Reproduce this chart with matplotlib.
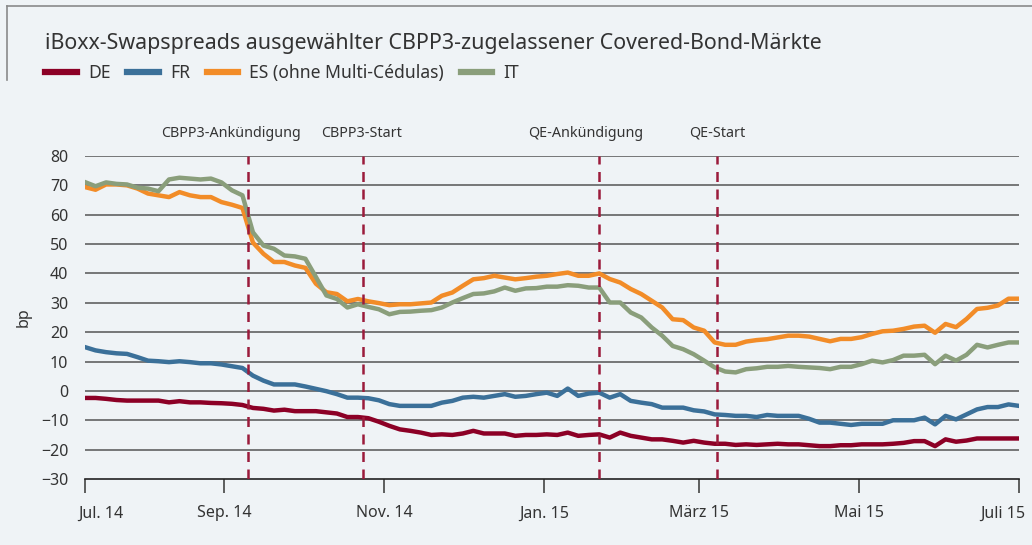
import matplotlib
matplotlib.use('Agg')
import matplotlib.pyplot as plt
import matplotlib.transforms as mtrans
import numpy as np
import pandas as pd

# spreads in bp, sampled every 4 days starting 10 Jul 2014
de = [-2.4, -2.4, -2.7, -3.1, -3.3, -3.3, -3.3, -3.3, -3.9, -3.5,
      -3.9, -3.9, -4.1, -4.2, -4.4, -4.8, -5.8, -6.1, -6.7, -6.4,
      -6.9, -6.9, -6.9, -7.3, -7.7, -8.9, -8.9, -9.3, -10.5, -11.9,
      -13.1, -13.6, -14.2, -15.0, -14.8, -15.0, -14.5, -13.6, -14.5, -14.5,
      -14.5, -15.3, -15.0, -15.0, -14.8, -15.0, -14.2, -15.3, -15.0, -14.8,
      -15.9, -14.2, -15.3, -15.9, -16.5, -16.5, -17.0, -17.6, -17.0, -17.6,
      -18.0, -18.0, -18.4, -18.2, -18.4, -18.2, -18.0, -18.2, -18.2, -18.5,
      -18.8, -18.8, -18.5, -18.5, -18.2, -18.2, -18.2, -18.0, -17.7, -17.1,
      -17.1, -18.8, -16.5, -17.3, -16.9, -16.2, -16.2, -16.2, -16.2, -16.2]
fr = [14.9, 13.8, 13.2, 12.8, 12.6, 11.5, 10.3, 10.1, 9.8, 10.1,
      9.8, 9.4, 9.4, 9.0, 8.4, 7.8, 5.2, 3.5, 2.2, 2.2,
      2.2, 1.5, 0.7, -0.1, -1.1, -2.3, -2.3, -2.5, -3.2, -4.5,
      -5.1, -5.1, -5.1, -5.1, -4.0, -3.4, -2.3, -2.0, -2.3, -1.7,
      -1.1, -2.0, -1.7, -1.1, -0.6, -1.7, 0.8, -1.7, -0.9, -0.6,
      -2.3, -1.1, -3.4, -4.0, -4.5, -5.7, -5.7, -5.7, -6.6, -7.0,
      -8.0, -8.2, -8.5, -8.5, -8.9, -8.2, -8.5, -8.5, -8.5, -9.5,
      -10.8, -10.8, -11.2, -11.6, -11.2, -11.2, -11.2, -10.0, -10.0, -10.0,
      -9.1, -11.4, -8.5, -9.7, -8.0, -6.3, -5.5, -5.5, -4.6, -5.1]
es = [69.4, 68.5, 70.3, 70.3, 70.0, 68.9, 67.2, 66.6, 66.0, 67.7,
      66.6, 66.0, 66.0, 64.3, 63.4, 62.3, 50.5, 46.7, 43.9, 43.9,
      42.7, 41.9, 36.5, 33.6, 33.0, 30.5, 31.3, 30.5, 29.9, 29.2,
      29.5, 29.5, 29.8, 30.1, 32.4, 33.5, 35.8, 38.0, 38.4, 39.2,
      38.6, 38.0, 38.4, 38.9, 39.2, 39.8, 40.3, 39.2, 39.2, 40.0,
      38.1, 36.9, 34.7, 33.0, 30.7, 28.4, 24.4, 24.1, 21.6, 20.5,
      16.5, 15.7, 15.7, 16.8, 17.3, 17.6, 18.2, 18.8, 18.8, 18.5,
      17.7, 16.9, 17.7, 17.7, 18.3, 19.4, 20.3, 20.5, 21.1, 21.9,
      22.2, 19.8, 22.8, 21.7, 24.5, 27.9, 28.3, 29.1, 31.4, 31.4]
it = [71.1, 69.7, 71.0, 70.5, 70.3, 69.2, 68.9, 68.0, 72.0, 72.6,
      72.3, 72.0, 72.3, 71.0, 68.3, 66.6, 54.0, 49.5, 48.4, 46.1,
      45.8, 45.0, 38.8, 32.5, 31.3, 28.4, 29.5, 28.6, 27.8, 26.1,
      26.9, 27.0, 27.3, 27.5, 28.4, 30.1, 31.6, 33.0, 33.2, 33.9,
      35.2, 34.1, 34.9, 35.0, 35.5, 35.5, 36.0, 35.8, 35.2, 35.2,
      30.1, 30.1, 26.7, 25.0, 21.6, 18.8, 15.3, 14.2, 12.5, 10.3,
      8.0, 6.6, 6.3, 7.4, 7.7, 8.2, 8.2, 8.5, 8.2, 8.0,
      7.8, 7.4, 8.2, 8.2, 9.1, 10.3, 9.7, 10.5, 12.0, 12.0,
      12.3, 9.1, 12.0, 10.3, 12.3, 15.7, 14.8, 15.7, 16.5, 16.5]

series_names = ['DE', 'FR', 'ES (ohne Multi-Cédulas)', 'IT']
colors = ['#8c0026', '#3b7099', '#f28c28', '#8a9e7b']

events = ['CBPP3-Ankündigung', 'CBPP3-Start', 'QE-Ankündigung', 'QE-Start']
event_dates = pd.to_datetime(['2014-09-10', '2014-10-24', '2015-01-22', '2015-03-08'])
event_label_shift = [-12, -1, -10, 0]  # points

tick_dates = pd.to_datetime(['2014-07-10', '2014-09-01', '2014-11-01', '2015-01-01',
                             '2015-03-01', '2015-05-01', '2015-07-01'])
tick_labels = ['Jul. 14', 'Sep. 14', 'Nov. 14', 'Jan. 15', 'März 15', 'Mai 15', 'Juli 15']

dates = pd.date_range('2014-07-10', periods=len(de), freq='4D')

plt.rcParams['font.family'] = ['Noto Sans', 'DejaVu Sans']
bg = '#eff3f6'
txt = '#333333'

fig = plt.figure(figsize=(10.32, 5.45), dpi=100, facecolor=bg)
ax = fig.add_axes([0.0824, 0.1211, 0.9050, 0.5927], facecolor=bg)

# frame around the heading
fig.add_artist(plt.Line2D([7/1032, 1], [1-6/545, 1-6/545], color='#8a8a8a', lw=1.2))
fig.add_artist(plt.Line2D([7/1032, 7/1032], [1-6/545, 1-80/545], color='#8a8a8a', lw=1.2))
fig.text(45/1032, 1-43/545, 'iBoxx-Swapspreads ausgewählter CBPP3-zugelassener Covered-Bond-Märkte',
         fontsize=15.4, color=txt, va='center', ha='left')

for yv in range(-20, 90, 10):
    ax.axhline(yv, color='#555555', lw=1.1, zorder=1)

for vals, c, name in zip([de, fr, es, it], colors, series_names):
    ax.plot(dates, vals, color=c, lw=3.2, label=name, zorder=3, solid_joinstyle='round')

for d, name, sh in zip(event_dates, events, event_label_shift):
    ax.axvline(d, color='#9b1b3b', lw=1.8, dashes=(4, 3), zorder=4)
    ax.annotate(name, xy=(d, 1), xycoords=('data', 'axes fraction'),
                xytext=(sh, 11), textcoords='offset points',
                ha='center', va='bottom', fontsize=10.3, color=txt, annotation_clip=False)

ax.set_ylim(-30, 80)
ax.set_yticks(range(-30, 90, 10))
ax.set_xlim(dates[0], dates[-1])
ax.set_xticks(tick_dates)
ax.set_xticklabels(tick_labels)
ax.set_ylabel('bp', fontsize=11.5, color=txt, labelpad=7)

for s in ['top', 'right', 'left']:
    ax.spines[s].set_visible(False)
ax.spines['bottom'].set_color('#222222')
ax.spines['bottom'].set_linewidth(1.2)
ax.tick_params(axis='y', length=0, labelsize=11.5, labelcolor=txt, pad=12)
ax.tick_params(axis='x', length=10, width=1.2, color='#444444', labelsize=11.5,
               labelcolor=txt, pad=9)

# end labels sit inside the axis range, like the original
xt = ax.get_xticklabels()
xt[0].set_ha('left')
xt[-1].set_ha('right')
xt[0].set_transform(xt[0].get_transform() + mtrans.ScaledTranslation(-7/100, 0, fig.dpi_scale_trans))
xt[-1].set_transform(xt[-1].get_transform() + mtrans.ScaledTranslation(6/100, 0, fig.dpi_scale_trans))

leg = ax.legend(loc='center left', bbox_to_anchor=(45/1032, 1-73/545), bbox_transform=fig.transFigure,
                ncol=4, frameon=False, fontsize=12.6, handlelength=1.8, handletextpad=0.65,
                columnspacing=0.95, borderaxespad=0, borderpad=0)
for line in leg.get_lines():
    line.set_linewidth(4.5)
for t in leg.get_texts():
    t.set_color(txt)

fig.savefig('out.png', dpi=100, facecolor=bg)
